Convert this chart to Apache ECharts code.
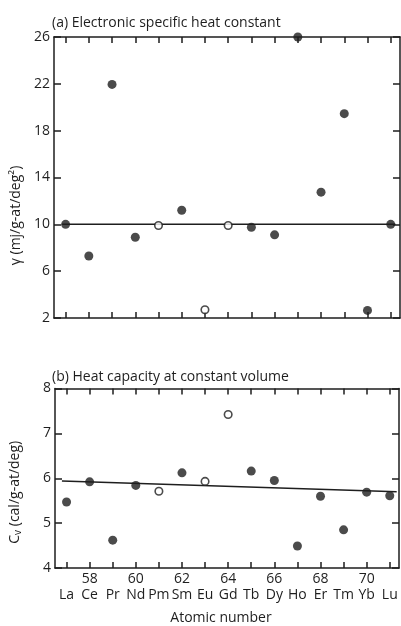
<!DOCTYPE html>
<html>
<head>
<meta charset="utf-8">
<script src="https://cdn.jsdelivr.net/npm/echarts@6/dist/echarts.min.js"></script>
<style>
html, body { margin: 0; padding: 0; background: #fff; }
#chart { width: 401px; height: 626px; }
</style>
</head>
<body>
<div id="chart"></div>
<script>
// lanthanides, La .. Lu
const elements = ['La', 'Ce', 'Pr', 'Nd', 'Pm', 'Sm', 'Eu', 'Gd', 'Tb', 'Dy', 'Ho', 'Er', 'Tm', 'Yb', 'Lu'];
const atomicNums = [57, 58, 59, 60, 61, 62, 63, 64, 65, 66, 67, 68, 69, 70, 71];
// open circles in both panels
const openPoints = ['Pm', 'Eu', 'Gd'];

// (a) electronic specific heat constant, mj/g-at/deg^2
const gammaVals = [10.0, 7.3, 21.95, 8.9, 9.9, 11.2, 2.7, 9.9, 9.75, 9.1, 26.0, 12.75, 19.45, 2.65, 10.0];
const gammaFitX = [56.85, 71.2];
const gammaFitY = [10.0, 10.0];

// (b) heat capacity at constant volume, cal/g-at/deg
const cvVals = [5.47, 5.92, 4.62, 5.84, 5.71, 6.12, 5.93, 7.42, 6.16, 5.95, 4.49, 5.60, 4.85, 5.69, 5.61];
const cvFitX = [56.8, 71.3];
const cvFitY = [5.94, 5.70];

const evenLabels = [58, 60, 62, 64, 66, 68, 70];

const ink = '#1e1e1e';
const font = 'Open Sans';
const fs = 14;

function pointsOf(vals, open) {
  const out = [];
  atomicNums.forEach(function (n, i) {
    const isOpen = openPoints.indexOf(elements[i]) >= 0;
    if (isOpen === open) out.push([n, vals[i]]);
  });
  return out;
}

function fitLine(xs, ys) {
  return xs.map(function (x, i) { return [x, ys[i]]; });
}

function xAxisPair(grid, withLabels) {
  const base = {
    type: 'value',
    gridIndex: grid,
    min: 56.5,
    max: 71.4,
    splitLine: { show: false },
    axisLine: { show: true, onZero: false, lineStyle: { color: ink, width: 1.5 } },
    axisTick: { show: true, inside: true, length: 6, customValues: atomicNums, lineStyle: { color: ink, width: 1.5 } }
  };
  const bottom = Object.assign({}, base, {
    position: 'bottom',
    axisLabel: withLabels ? {
      show: true,
      customValues: atomicNums,
      margin: 3,
      formatter: function (v) {
        const i = atomicNums.indexOf(v);
        const num = evenLabels.indexOf(v) >= 0 ? String(v) : ' ';
        return '{n|' + num + '}\n{e|' + elements[i] + '}';
      },
      rich: {
        n: { fontFamily: font, fontSize: fs, fontWeight: 500, color: ink, lineHeight: 16 },
        e: { fontFamily: font, fontSize: fs, fontWeight: 500, color: ink, lineHeight: 17 }
      }
    } : { show: false }
  });
  if (withLabels) {
    bottom.name = 'Atomic number';
    bottom.nameLocation = 'middle';
    bottom.nameGap = 43;
    bottom.nameTextStyle = { fontFamily: font, fontSize: fs, fontWeight: 500, color: ink, padding: [0, 12, 0, 0] };
  }
  const top = Object.assign({}, base, { position: 'top', axisLabel: { show: false } });
  return [bottom, top];
}

// namePad pushes the rotated name down the axis (it sits below the middle in the original)
function yAxisPair(grid, min, max, interval, name, nameGap, namePad) {
  const base = {
    type: 'value',
    gridIndex: grid,
    min: min,
    max: max,
    interval: interval,
    splitLine: { show: false },
    axisLine: { show: true, onZero: false, lineStyle: { color: ink, width: 1.5 } },
    axisTick: { show: true, inside: true, length: 7, lineStyle: { color: ink, width: 1.5 } }
  };
  const left = Object.assign({}, base, {
    position: 'left',
    name: name,
    nameLocation: 'middle',
    nameGap: nameGap,
    nameTextStyle: {
      fontFamily: font, fontSize: fs, fontWeight: 500, color: ink,
      padding: [0, namePad, 0, 0],
      rich: {
        c: { fontFamily: font, fontSize: fs, fontWeight: 500, color: ink },
        s: { fontFamily: font, fontSize: 10, fontWeight: 500, color: ink, verticalAlign: 'bottom', padding: [6, 0, 0, 0] }
      }
    },
    axisLabel: { show: true, margin: 4, fontFamily: font, fontSize: fs, fontWeight: 500, color: ink }
  });
  const right = Object.assign({}, base, { position: 'right', axisLabel: { show: false } });
  return [left, right];
}

const chart = echarts.init(document.getElementById('chart'), null, { renderer: 'canvas' });

const xs = xAxisPair(0, false).concat(xAxisPair(1, true));
const ys = yAxisPair(0, 2, 26, 4, 'γ (mj/g-at/deg²)', 30, 76)
  .concat(yAxisPair(1, 4, 8, 1, '{c|C}{s|v}{c| (cal/g-at/deg)}', 32, 28));

const dot = { color: ink };
const ring = { color: '#fff', borderColor: ink, borderWidth: 1.6 };

chart.setOption({
  backgroundColor: '#fff',
  animation: false,
  title: [
    { text: '(a) Electronic specific heat constant', left: 47, top: 11,
      textStyle: { fontFamily: font, fontSize: fs, fontWeight: 500, color: ink } },
    { text: '(b) Heat capacity at constant volume', left: 47, top: 365,
      textStyle: { fontFamily: font, fontSize: fs, fontWeight: 500, color: ink } }
  ],
  grid: [
    { left: 54, top: 37, width: 346, height: 281 },
    { left: 52, top: 388.5, width: 347, height: 183.5 }
  ],
  xAxis: xs,
  yAxis: ys,
  series: [
    { type: 'line', xAxisIndex: 0, yAxisIndex: 0, data: fitLine(gammaFitX, gammaFitY),
      symbol: 'none', lineStyle: { color: ink, width: 1.5 }, z: 1 },
    { type: 'scatter', xAxisIndex: 0, yAxisIndex: 0, data: pointsOf(gammaVals, false),
      symbolSize: 9, itemStyle: dot, z: 3 },
    { type: 'scatter', xAxisIndex: 0, yAxisIndex: 0, data: pointsOf(gammaVals, true),
      symbolSize: 7.5, itemStyle: ring, z: 3 },

    { type: 'line', xAxisIndex: 2, yAxisIndex: 2, data: fitLine(cvFitX, cvFitY),
      symbol: 'none', lineStyle: { color: ink, width: 1.5 }, z: 1 },
    { type: 'scatter', xAxisIndex: 2, yAxisIndex: 2, data: pointsOf(cvVals, false),
      symbolSize: 9, itemStyle: dot, z: 3 },
    { type: 'scatter', xAxisIndex: 2, yAxisIndex: 2, data: pointsOf(cvVals, true),
      symbolSize: 7.5, itemStyle: ring, z: 3 }
  ]
});
</script>
</body>
</html>
